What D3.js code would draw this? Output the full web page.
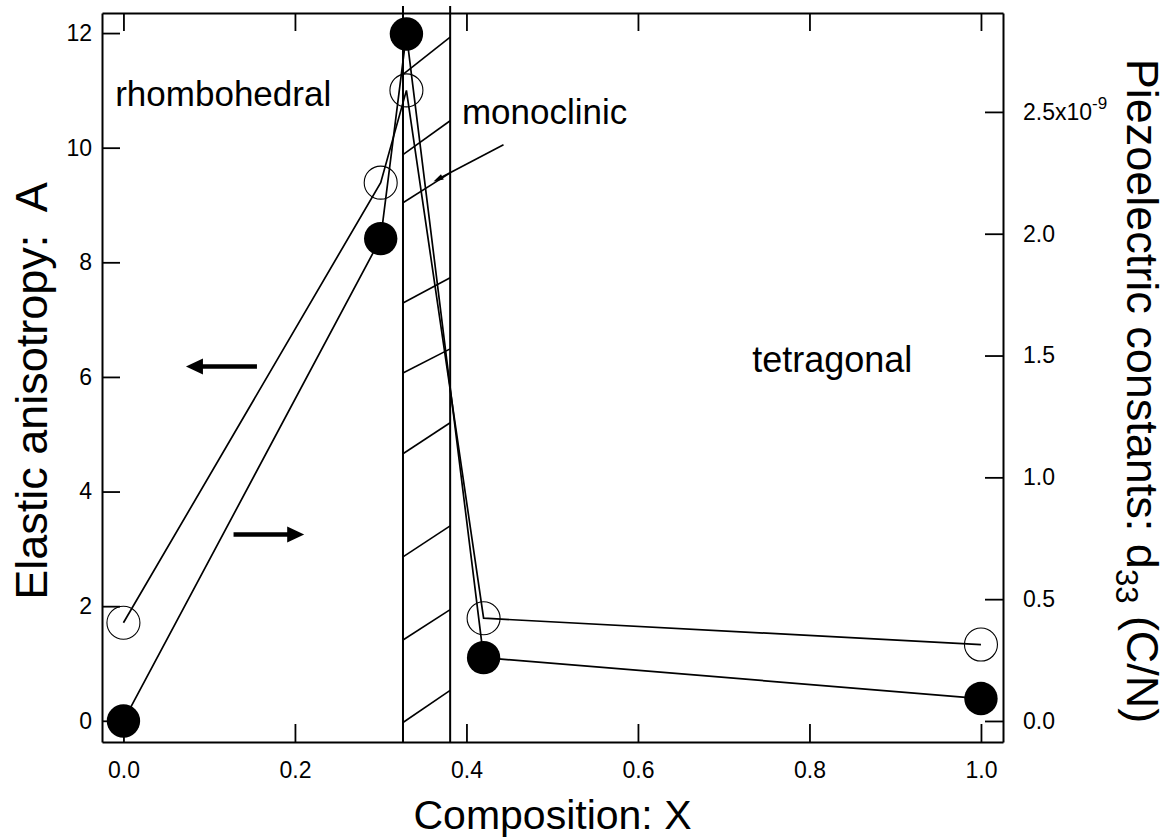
<!DOCTYPE html>
<html>
<head>
<meta charset="utf-8">
<script src="https://cdn.jsdelivr.net/npm/d3@7"></script>
<style>
body { margin: 0; background: #fff; }
svg text { font-family: "Liberation Sans", Arial, sans-serif; fill: #000; }
</style>
</head>
<body>
<div id="chart"></div>
<script>
// composition X and the two measured quantities
var composition = [0.0, 0.30, 0.33, 0.42, 1.0];
var anisotropy = [1.71, 9.39, 11.0, 1.79, 1.33];   // open circles, left axis (A)
var d33 = [0.0, 1.98, 2.82, 0.26, 0.092];           // filled circles, right axis (x1e-9 C/N)

var xTicks = [0.0, 0.2, 0.4, 0.6, 0.8, 1.0];
var leftTicks = [0, 2, 4, 6, 8, 10, 12];
var rightTicks = [0.0, 0.5, 1.0, 1.5, 2.0, 2.5];

// monoclinic band edges and hatch strokes (X / A units)
var bandEdges = [0.326, 0.381];
var hatchLeft = [11.28, 9.88, 9.04, 7.29, 6.07, 4.66, 2.86, 1.41, -0.03];
var hatchRight = [11.93, 10.47, 9.56, 7.73, 6.49, 5.20, 3.40, 1.94, 0.53];

// annotation arrows [x0, A0, x1, A1]
var arrowLeftAxis = [0.1557, 6.18, 0.0729, 6.18];
var arrowRightAxis = [0.1284, 3.25, 0.2108, 3.25];
var monoLeader = [0.4432, 10.05, 0.3616, 9.41];

var width = 1169, height = 839;
var margin = { top: 13, right: 166, bottom: 97, left: 102 };

var svg = d3.select('#chart').append('svg')
    .attr('width', width)
    .attr('height', height);

var x = d3.scaleLinear().domain([-0.025, 1.0257]).range([margin.left, width - margin.right]);
var yL = d3.scaleLinear().domain([-0.37, 12.35]).range([height - margin.bottom, margin.top]);
var yR = d3.scaleLinear().domain([-0.0863, 2.906]).range([height - margin.bottom, margin.top]);

function styleAxis(g) {
    g.select('.domain').attr('stroke-width', 2);
    g.selectAll('.tick line').attr('stroke-width', 1.8);
    g.selectAll('.tick text').attr('font-size', 23);
}

// hatched band
var band = svg.append('g').attr('stroke', '#000').attr('fill', 'none');
band.selectAll('line.edge')
    .data(bandEdges)
    .enter().append('line')
    .attr('class', 'edge')
    .attr('x1', d => x(d)).attr('x2', d => x(d))
    .attr('y1', yL(12.47)).attr('y2', yL(-0.37))
    .attr('stroke-width', 2);
band.selectAll('line.hatch')
    .data(hatchLeft)
    .enter().append('line')
    .attr('class', 'hatch')
    .attr('x1', x(bandEdges[0])).attr('x2', x(bandEdges[1]))
    .attr('y1', d => yL(d))
    .attr('y2', (d, i) => yL(hatchRight[i]))
    .attr('stroke-width', 1.6);

// axes
svg.append('g')
    .attr('transform', `translate(0,${height - margin.bottom})`)
    .call(d3.axisBottom(x).tickValues(xTicks).tickSizeInner(-18).tickSizeOuter(0)
        .tickPadding(20).tickFormat(d3.format('.1f')))
    .call(styleAxis);

svg.append('g')
    .attr('transform', `translate(0,${margin.top})`)
    .call(d3.axisTop(x).tickValues(xTicks).tickSizeInner(-18).tickSizeOuter(0).tickFormat(''))
    .call(styleAxis);

svg.append('g')
    .attr('transform', `translate(${margin.left},0)`)
    .call(d3.axisLeft(yL).tickValues(leftTicks).tickSizeInner(-18).tickSizeOuter(0)
        .tickPadding(10).tickFormat(d3.format('d')))
    .call(styleAxis);

var rightAxis = svg.append('g')
    .attr('transform', `translate(${width - margin.right},0)`)
    .call(d3.axisRight(yR).tickValues(rightTicks).tickSizeInner(-18).tickSizeOuter(0)
        .tickPadding(20).tickFormat(d3.format('.1f')))
    .call(styleAxis);

rightAxis.selectAll('.tick text')
    .filter(d => d === 2.5)
    .text('2.5x10')
    .append('tspan')
    .attr('dy', -11)
    .attr('font-size', 17)
    .text('-9');

// data lines
var lineL = d3.line().x((d, i) => x(composition[i])).y(d => yL(d));
var lineR = d3.line().x((d, i) => x(composition[i])).y(d => yR(d));

svg.append('path')
    .datum(anisotropy)
    .attr('d', lineL)
    .attr('fill', 'none')
    .attr('stroke', '#000')
    .attr('stroke-width', 1.7);

svg.append('path')
    .datum(d33)
    .attr('d', lineR)
    .attr('fill', 'none')
    .attr('stroke', '#000')
    .attr('stroke-width', 1.7);

svg.append('g')
    .selectAll('circle')
    .data(anisotropy)
    .enter().append('circle')
    .attr('cx', (d, i) => x(composition[i]))
    .attr('cy', d => yL(d))
    .attr('r', 16.5)
    .attr('fill', 'none')
    .attr('stroke', '#000')
    .attr('stroke-width', 1.1);

svg.append('g')
    .selectAll('circle')
    .data(d33)
    .enter().append('circle')
    .attr('cx', (d, i) => x(composition[i]))
    .attr('cy', d => yR(d))
    .attr('r', 16.7)
    .attr('fill', '#000');

// arrows
function arrow(a, width, headLen, headHalf) {
    var x0 = x(a[0]), y0 = yL(a[1]), x1 = x(a[2]), y1 = yL(a[3]);
    var dx = x1 - x0, dy = y1 - y0, len = Math.sqrt(dx * dx + dy * dy);
    var ux = dx / len, uy = dy / len;
    var bx = x1 - ux * headLen, by = y1 - uy * headLen;
    svg.append('line')
        .attr('x1', x0).attr('y1', y0)
        .attr('x2', bx + ux).attr('y2', by + uy)
        .attr('stroke', '#000')
        .attr('stroke-width', width);
    svg.append('path')
        .attr('d', `M${x1},${y1}L${bx - uy * headHalf},${by + ux * headHalf}L${bx + uy * headHalf},${by - ux * headHalf}Z`)
        .attr('fill', '#000');
}
arrow(arrowLeftAxis, 4.5, 17, 8);
arrow(arrowRightAxis, 4.5, 17, 8);
arrow(monoLeader, 1.6, 10, 3);

// phase labels
svg.append('text').attr('x', x(-0.0096)).attr('y', yL(10.72)).attr('font-size', 35).text('rhombohedral');
svg.append('text').attr('x', x(0.3947)).attr('y', yL(10.42)).attr('font-size', 35).text('monoclinic');
svg.append('text').attr('x', x(0.7333)).attr('y', yL(6.08)).attr('font-size', 36).text('tetragonal');

// axis titles
svg.append('text')
    .attr('x', (margin.left + width - margin.right) / 2)
    .attr('y', 829)
    .attr('text-anchor', 'middle')
    .attr('font-size', 41)
    .text('Composition: X');

svg.append('text')
    .attr('transform', 'translate(47,391) rotate(-90)')
    .attr('text-anchor', 'middle')
    .attr('font-size', 45)
    .attr('xml:space', 'preserve')
    .text('Elastic anisotropy:  A');

var rt = svg.append('text')
    .attr('transform', 'translate(1127,391) rotate(90)')
    .attr('text-anchor', 'middle')
    .attr('font-size', 45);
rt.append('tspan').text('Piezoelectric constants: d');
rt.append('tspan').attr('font-size', 31).attr('dy', 11).text('33');
rt.append('tspan').attr('dy', -11).text(' (C/N)');
</script>
</body>
</html>
